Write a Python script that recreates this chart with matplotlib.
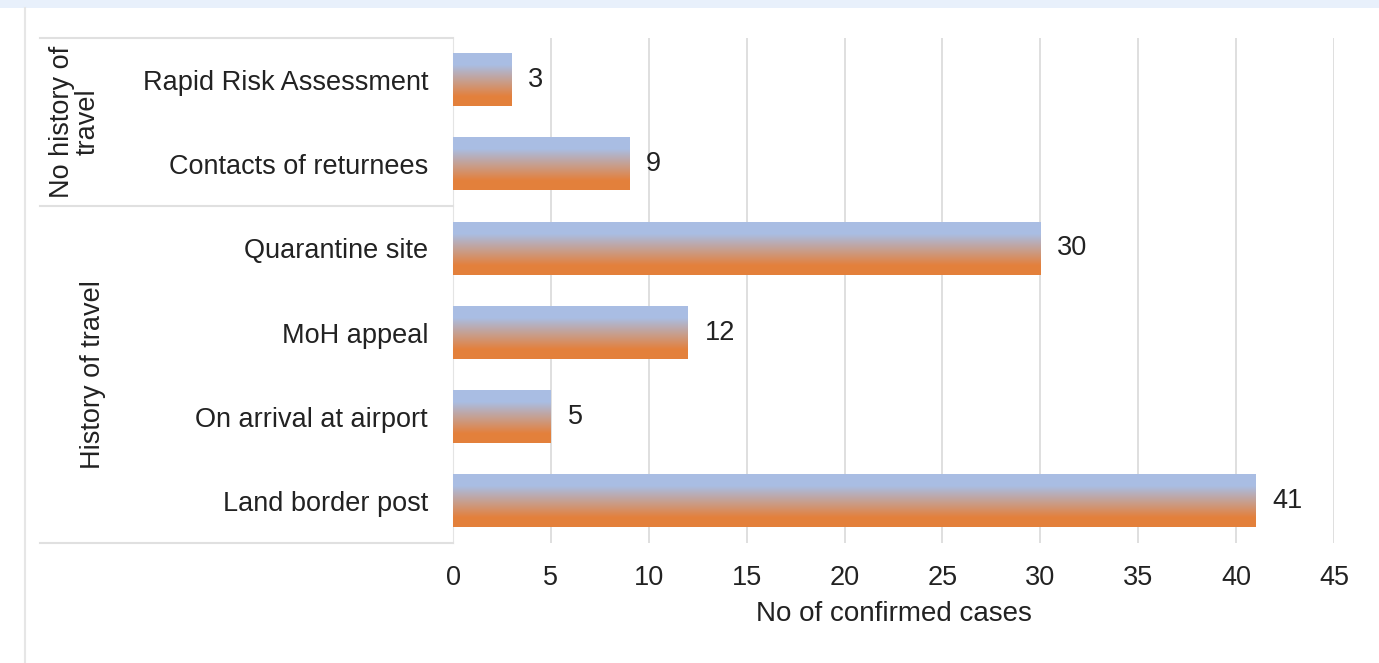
import numpy as np
import matplotlib
matplotlib.use("Agg")
import matplotlib.pyplot as plt
import matplotlib.transforms as mtransforms
from matplotlib.patches import Rectangle
from matplotlib.lines import Line2D

plt.rcParams['font.family'] = ['Liberation Sans', 'DejaVu Sans']

# data, top to bottom
categories = ['Rapid Risk Assessment', 'Contacts of returnees', 'Quarantine site',
              'MoH appeal', 'On arrival at airport', 'Land border post']
cases = [3, 9, 30, 12, 5, 41]
groups = ['No history of\ntravel', 'History of travel']
group_sizes = [2, 4]

blue = np.array([0.663, 0.745, 0.894])
orange = np.array([0.894, 0.502, 0.235])
txt = '#222222'
fs = 19.5

fig = plt.figure(figsize=(13.79, 6.63), dpi=100)
fig.patch.set_facecolor('white')
ax = fig.add_axes([453 / 1379, 1 - 543 / 663, 881 / 1379, 505 / 663])

ypos = np.arange(len(categories))
bars = ax.barh(ypos, cases, height=0.62, color='none', edgecolor='none', zorder=3)

# vertical gradient: blue on top, orange at the bottom
t = np.linspace(0, 1, 256)
w = np.clip((t - 0.22) / 0.6, 0, 1)
grad = (blue * (1 - w[:, None]) + orange * w[:, None])[:, None, :]
for b in bars:
    x0, y0 = b.get_x(), b.get_y()
    ax.imshow(grad, extent=(x0, x0 + b.get_width(), y0 + b.get_height(), y0),
              aspect='auto', zorder=3, interpolation='bilinear',
              interpolation_stage='rgba')

ax.bar_label(bars, labels=[str(v) for v in cases], padding=12, fontsize=fs, color=txt)

ax.set_xlim(0, 45)
ax.set_ylim(len(categories) - 0.5, -0.5)
ax.set_xticks(range(0, 46, 5))
ax.set_yticks(ypos)
ax.set_yticklabels(categories)
ax.tick_params(axis='both', length=0, labelsize=fs, colors=txt)
ax.tick_params(axis='y', pad=18)
ax.tick_params(axis='x', pad=16)
ax.set_xlabel('No of confirmed cases', fontsize=fs + 0.5, color=txt, labelpad=7)
ax.grid(axis='x', color='#dcdcdc', lw=1.3, zorder=0)
ax.set_axisbelow(True)
for s in ax.spines.values():
    s.set_visible(False)
ax.spines['left'].set_visible(True)
ax.spines['left'].set_color('#e4e4e4')

# group boxes on the category axis
tr = mtransforms.blended_transform_factory(fig.transFigure, ax.transData)
x_left = 40 / 1379
x_axis = 453 / 1379
bounds = [-0.5]
for n in group_sizes:
    bounds.append(bounds[-1] + n)
for yb in bounds:
    fig.add_artist(Line2D([x_left, x_axis], [yb, yb], transform=tr, color='#e0e0e0', lw=1.5))
label_x = [75 / 1379, 93 / 1379]
for g, xg, lo, hi in zip(groups, label_x, bounds[:-1], bounds[1:]):
    fig.text(xg, (lo + hi) / 2, g, transform=tr, rotation=90, ha='center', va='center',
             fontsize=fs, color=txt, linespacing=1.0)

# screenshot frame
fig.add_artist(Rectangle((0, 1 - 8 / 663), 1, 8 / 663, transform=fig.transFigure,
                         color='#e8f0fb', lw=0))
fig.add_artist(Line2D([25 / 1379, 25 / 1379], [0, 1 - 8 / 663], transform=fig.transFigure,
                      color='#e6e6e6', lw=1.5))

fig.savefig('out.png', dpi=100)
